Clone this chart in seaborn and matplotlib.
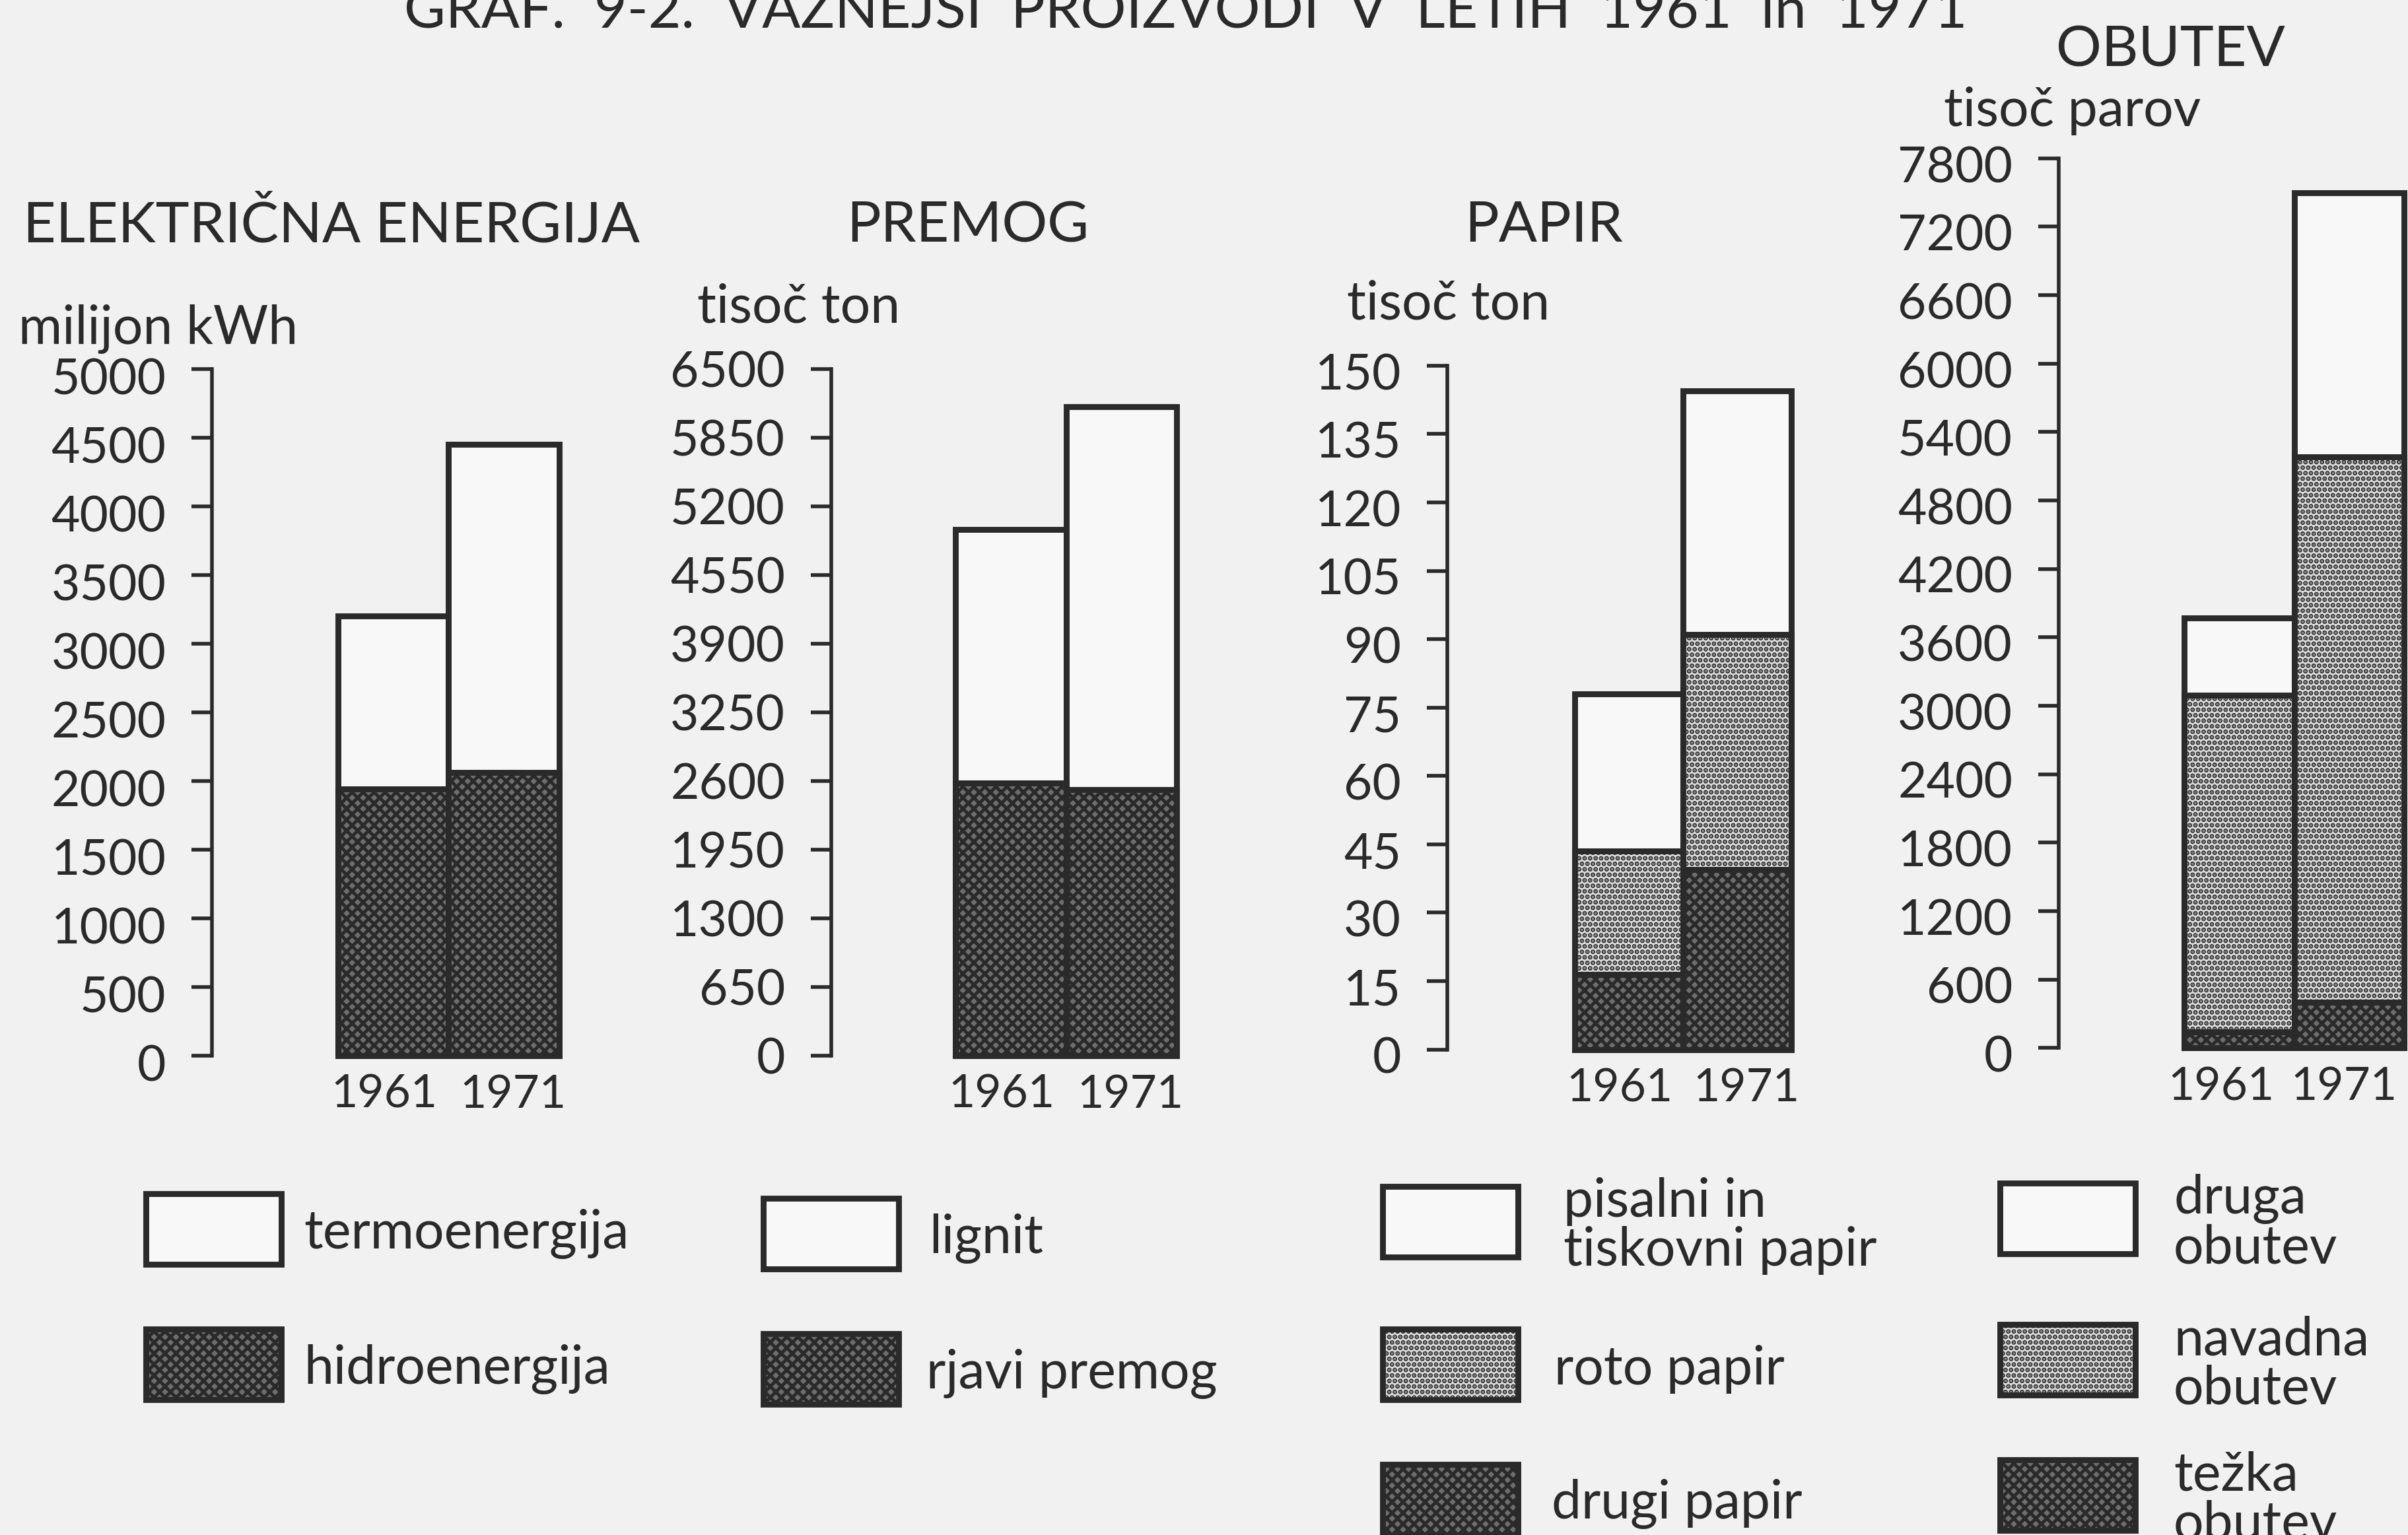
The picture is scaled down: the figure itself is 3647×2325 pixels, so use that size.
import numpy as np
import matplotlib
matplotlib.use("Agg")
import matplotlib.pyplot as plt
import matplotlib.transforms as mtransforms
from matplotlib.patches import Rectangle
import seaborn as sns

years = ["1961", "1971"]

# ELEKTRIČNA ENERGIJA (milijon kWh)
hidroenergija = [1940, 2060]
termoenergija = [1260, 2390]

# PREMOG (tisoč ton)
rjavi_premog = [2580, 2520]
lignit = [2400, 3620]

# PAPIR (tisoč ton)
drugi_papir = [16.5, 39.5]
roto_papir = [27.0, 51.5]
pisalni_papir = [34.5, 53.5]

# OBUTEV (tisoč parov)
tezka_obutev = [140, 400]
navadna_obutev = [2950, 4780]
druga_obutev = [680, 2320]

ticks_el = [0, 500, 1000, 1500, 2000, 2500, 3000, 3500, 4000, 4500, 5000]
ticks_pr = [0, 650, 1300, 1950, 2600, 3250, 3900, 4550, 5200, 5850, 6500]
ticks_pa = [0, 15, 30, 45, 60, 75, 90, 105, 120, 135, 150]
ticks_ob = [0, 600, 1200, 1800, 2400, 3000, 3600, 4200, 4800, 5400, 6000, 6600, 7200, 7800]

sns.set_theme(style="white")
plt.rcParams["font.family"] = ["Lato", "DejaVu Sans"]
plt.rcParams["hatch.linewidth"] = 1.8
INK = "#2a2a2a"
BG = "#f1f1f1"

STYLES = {
    "white": dict(color="#f8f8f8", hatch=None),
    "light": dict(color="#dcdcdc", hatch="...."),
    "dark": dict(color="#6e6e6e", hatch="xxxx"),
}

W, H = 1568, 999  # layout measured on the reduced picture


def fx(x):
    return x / W


def fy(y):
    return 1 - y / H


fig = plt.figure(figsize=(18.24, 11.625), dpi=200, facecolor=BG)


def stacked_panel(spine_x, bar_l, bar_r, y0, ytop, layers, ticks, label_drop=0,
                  year_shift=(-5, 5)):
    ax = fig.add_axes([fx(spine_x), fy(y0), fx(bar_r - spine_x), fy(ytop) - fy(y0)])
    ax.set_facecolor("none")
    cum = np.cumsum([np.array(v, dtype=float) for v, _ in layers], axis=0)
    # draw from the top segment downwards so each lower segment covers the one above
    for i in range(len(layers) - 1, -1, -1):
        st = STYLES[layers[i][1]]
        sns.barplot(x=years, y=cum[i], ax=ax, width=1.0, saturation=1,
                    color=st["color"], hatch=st["hatch"], edgecolor=INK,
                    linewidth=3.2, clip_on=False)
    bar_w = (bar_r - bar_l) / 2
    ax.set_xlim(-0.5 - (bar_l - spine_x) / bar_w, 1.5)
    ax.set_ylim(0, ticks[-1])
    ax.set_yticks(ticks)
    ax.set_yticklabels([str(t) for t in ticks])
    ax.set_xticks([0, 1])
    ax.set_xticklabels(years)
    ax.set_xlabel("")
    ax.set_ylabel("")
    sns.despine(ax=ax, bottom=True)
    ax.spines["left"].set_color(INK)
    ax.spines["left"].set_linewidth(2)
    ax.tick_params(axis="y", direction="out", length=11, width=2, pad=14,
                   labelsize=27, colors=INK, left=True)
    ax.tick_params(axis="x", length=0, pad=10, labelsize=25, colors=INK)
    if label_drop:
        off = mtransforms.ScaledTranslation(0, -label_drop / 72, fig.dpi_scale_trans)
        for lab in ax.get_yticklabels():
            lab.set_transform(lab.get_transform() + off)
    # keep the two year labels apart like the original
    for lab, s in zip(ax.get_xticklabels(), year_shift):
        lab.set_transform(lab.get_transform()
                          + mtransforms.ScaledTranslation(s / 72, 0, fig.dpi_scale_trans))
    ax.grid(False)
    return ax


stacked_panel(138, 220, 364, 687, 240,
              [(hidroenergija, "dark"), (termoenergija, "white")], ticks_el, label_drop=4)
stacked_panel(541, 622, 766, 687, 240,
              [(rjavi_premog, "dark"), (lignit, "white")], ticks_pr)
stacked_panel(942, 1025, 1166, 683, 238,
              [(drugi_papir, "dark"), (roto_papir, "light"), (pisalni_papir, "white")], ticks_pa,
              label_drop=3)
stacked_panel(1340, 1422, 1565, 682, 103,
              [(tezka_obutev, "dark"), (navadna_obutev, "light"), (druga_obutev, "white")], ticks_ob,
              label_drop=3, year_shift=(-10, -3))

# titles and units
fig.text(fx(772), fy(18), "GRAF.  9-2.  VAŽNEJŠI  PROIZVODI  V  LETIH  1961  in  1971",
         ha="center", va="baseline", fontsize=31, color=INK)
fig.text(fx(15), fy(147), "ELEKTRIČNA ENERGIJA", ha="left", va="center", fontsize=31, color=INK)
fig.text(fx(12), fy(214), "milijon kWh", ha="left", va="center", fontsize=29, color=INK)
fig.text(fx(630), fy(147), "PREMOG", ha="center", va="center", fontsize=31, color=INK)
fig.text(fx(520), fy(200), "tisoč ton", ha="center", va="center", fontsize=29, color=INK)
fig.text(fx(1005), fy(147), "PAPIR", ha="center", va="center", fontsize=31, color=INK)
fig.text(fx(943), fy(198), "tisoč ton", ha="center", va="center", fontsize=29, color=INK)
fig.text(fx(1413), fy(33), "OBUTEV", ha="center", va="center", fontsize=31, color=INK)
fig.text(fx(1349), fy(72), "tisoč parov", ha="center", va="center", fontsize=29, color=INK)

# legend
legend_items = [
    (95, 777, "white", "termoenergija", 198),
    (95, 865, "dark", "hidroenergija", 198),
    (497, 780, "white", "lignit", 605),
    (497, 868, "dark", "rjavi premog", 603),
    (900, 772, "white", "pisalni in\ntiskovni papir", 1018),
    (900, 865, "light", "roto papir", 1012),
    (900, 953, "dark", "drugi papir", 1010),
    (1302, 770, "white", "druga\nobutev", 1415),
    (1302, 862, "light", "navadna\nobutev", 1415),
    (1302, 950, "dark", "težka\nobutev", 1415),
]
for bx, by, kind, label, tx in legend_items:
    st = STYLES[kind]
    fig.add_artist(Rectangle((fx(bx), fy(by + 46)), fx(88), 46 / H,
                             transform=fig.transFigure, facecolor=st["color"],
                             hatch=st["hatch"], edgecolor=INK, linewidth=3.2))
    fig.text(fx(tx), fy(by + 26), label, ha="left", va="center", fontsize=29,
             color=INK, linespacing=1.0)

fig.savefig("out.png", dpi=200, facecolor=BG)
